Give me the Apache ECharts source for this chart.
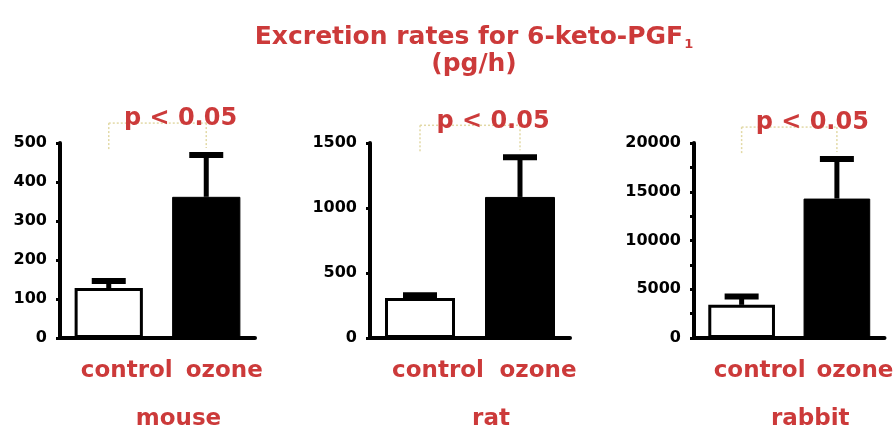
<!DOCTYPE html>
<html>
<head>
<meta charset="utf-8">
<script src="https://cdn.jsdelivr.net/npm/echarts@6/dist/echarts.min.js"></script>
<style>
  html, body { margin: 0; padding: 0; background: #fff; }
  #chart { width: 895px; height: 434px; }
</style>
</head>
<body>
<div id="chart"></div>
<script>
// Excretion rates per species: control vs ozone (mean with SEM error bars)
const categories = ['control', 'ozone'];
const species = ['mouse', 'rat', 'rabbit'];

const mouseMean = [128, 362];
const mouseErr = [18, 107];
const ratMean = [308, 1085];
const ratErr = [20, 305];
const rabbitMean = [3400, 14300];
const rabbitErr = [850, 4050];

const yMax = [500, 1500, 20000];
const yStep = [100, 500, 5000];
const pLabel = 'p < 0.05';

const means = [mouseMean, ratMean, rabbitMean];
const errs = [mouseErr, ratErr, rabbitErr];

const RED = '#cc3a3a';
const FONT = '"DejaVu Sans", "Liberation Sans", sans-serif';

const panels = [
  { left: 60, width: 195 },
  { left: 370, width: 200 },
  { left: 694, width: 196 }
];

const grid = panels.map(p => ({ left: p.left, width: p.width, top: 143, height: 195 }));

const xAxis = panels.map((p, i) => ({
  type: 'category',
  gridIndex: i,
  data: categories,
  boundaryGap: true,
  axisLine: { lineStyle: { color: '#000', width: 4 } },
  axisTick: { show: false },
  axisLabel: {
    color: RED, fontFamily: FONT, fontWeight: 'bold', fontSize: 23,
    margin: 22, padding: [0, 0, 0, 36], interval: 0
  },
  name: species[i],
  nameLocation: 'middle',
  nameGap: 70,
  nameTextStyle: {
    color: RED, fontFamily: FONT, fontWeight: 'bold', fontSize: 23,
    padding: [0, 0, 0, 42]
  }
}));

const yAxis = panels.map((p, i) => ({
  type: 'value',
  gridIndex: i,
  min: 0,
  max: yMax[i],
  interval: yStep[i],
  splitLine: { show: false },
  axisLine: { show: true, lineStyle: { color: '#000', width: 4 } },
  axisTick: { show: true, length: 4, lineStyle: { color: '#000', width: 3 } },
  minorTick: { show: i === 2, splitNumber: 2, length: 4, lineStyle: { color: '#000', width: 3 } },
  axisLabel: {
    color: '#000', fontFamily: FONT, fontWeight: 'bold', fontSize: 16, margin: 13,
    formatter: v => String(v)
  }
}));

const series = [];
means.forEach((m, i) => {
  // bars
  series.push({
    type: 'bar',
    xAxisIndex: i,
    yAxisIndex: i,
    barWidth: '70%',
    data: m.map((v, k) => ({
      value: v,
      itemStyle: k === 0
        ? { color: '#fff', borderColor: '#000', borderWidth: 3 }
        : { color: '#000', borderColor: '#000', borderWidth: 1 }
    })),
    z: 2
  });
  // error bars (upper whisker with cap)
  series.push({
    type: 'custom',
    xAxisIndex: i,
    yAxisIndex: i,
    data: m.map((v, k) => [k, v, errs[i][k]]),
    renderItem: function (params, api) {
      const x = api.value(0);
      const base = api.coord([x, api.value(1)]);
      const top = api.coord([x, api.value(1) + api.value(2)]);
      const half = 17;
      return {
        type: 'group',
        children: [
          { type: 'line', shape: { x1: base[0], y1: base[1], x2: top[0], y2: top[1] },
            style: { stroke: '#000', lineWidth: 5 } },
          { type: 'line', shape: { x1: top[0] - half, y1: top[1], x2: top[0] + half, y2: top[1] },
            style: { stroke: '#000', lineWidth: 6 } }
        ]
      };
    },
    z: 3
  });
  // significance bracket with p-value
  series.push({
    type: 'custom',
    xAxisIndex: i,
    yAxisIndex: i,
    data: [[0, 1, m[1] + errs[i][1]]],
    renderItem: function (params, api) {
      const pTop = api.coord([api.value(1), api.value(2)]);
      const a = api.coord([api.value(0), 0])[0];
      const b = pTop[0];
      const y = pTop[1] - 32;
      const dash = { stroke: '#e2d9a6', lineWidth: 1.5, lineDash: [2, 2] };
      return {
        type: 'group',
        children: [
          { type: 'line', shape: { x1: a, y1: y, x2: b, y2: y }, style: dash },
          { type: 'line', shape: { x1: a, y1: y, x2: a, y2: y + 27 }, style: dash },
          { type: 'line', shape: { x1: b, y1: y, x2: b, y2: y + 25 }, style: dash },
          { type: 'text', style: {
              text: pLabel, x: (a + b) / 2 + 23, y: y - 4,
              align: 'center', verticalAlign: 'middle',
              fill: RED, font: 'bold 24px ' + FONT
          } }
        ]
      };
    },
    z: 4
  });
});

const chart = echarts.init(document.getElementById('chart'), null, { renderer: 'canvas' });
chart.setOption({
  animation: false,
  backgroundColor: '#fff',
  title: {
    text: '{m|Excretion rates for 6-keto-PGF}{s|1}\n{m|(pg/h)}',
    left: 469,
    top: 19,
    textAlign: 'center',
    textStyle: {
      rich: {
        m: { color: RED, fontFamily: FONT, fontWeight: 'bold', fontSize: 25, lineHeight: 27 },
        s: { color: RED, fontFamily: FONT, fontWeight: 'bold', fontSize: 13, lineHeight: 27, verticalAlign: 'bottom', padding: [10, 0, 0, 1] }
      }
    }
  },
  grid: grid,
  xAxis: xAxis,
  yAxis: yAxis,
  series: series
});
</script>
</body>
</html>
